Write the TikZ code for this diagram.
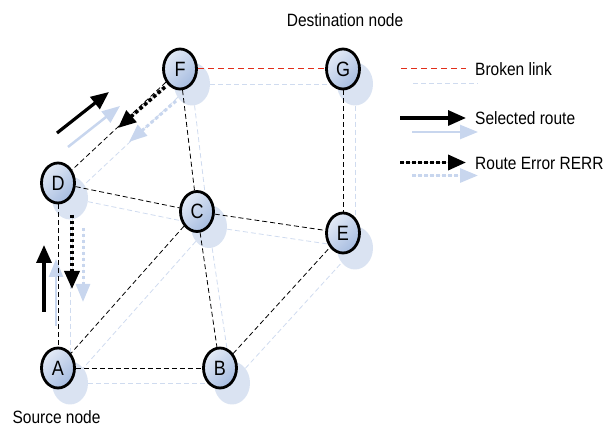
\documentclass[tikz,border=0pt]{standalone}
\usepackage{fontspec}
\setmainfont{Liberation Sans}
\usetikzlibrary{arrows.meta,shapes.geometric,calc}

\definecolor{nodelight}{HTML}{E3EAF6}
\definecolor{nodedark}{HTML}{A6BCE0}
\definecolor{ghostfill}{HTML}{DAE3F2}
\definecolor{ghostline}{HTML}{CFDBEF}
\definecolor{ghostarrow}{HTML}{C8D6EE}
\definecolor{brokenred}{RGB}{225,45,25}

\newcommand\tallstr[1]{\scalebox{1}[1.15]{#1}}

\tikzset{
  station/.style={ellipse, draw=black, line width=2.8pt,
    minimum width=33pt, minimum height=40pt, inner sep=0pt,
    top color=nodelight, bottom color=nodedark, shading angle=45,
    font=\fontsize{18}{18}\selectfont},
  ghost/.style={ellipse, fill=ghostfill, draw=none,
    minimum width=36pt, minimum height=43pt, inner sep=0pt},
  link/.style={draw=black, dash pattern=on 5pt off 3pt, line width=0.8pt},
  ghostlink/.style={draw=ghostline, dash pattern=on 5pt off 3pt, line width=0.8pt},
  brokenlink/.style={draw=brokenred, dash pattern=on 6pt off 4pt, line width=1pt},
  route/.style={draw=black, fill=black, line width=3.2pt, -{Triangle[length=18pt,width=15pt]}},
  errroute/.style={draw=black, fill=black, line width=3.6pt, dash pattern=on 3.5pt off 2.5pt,
    -{Triangle[length=18pt,width=15pt]}},
  ghostroute/.style={draw=ghostarrow, fill=ghostarrow, line width=2.5pt, -{Triangle[length=18pt,width=14pt]}},
  ghosterr/.style={draw=ghostarrow, fill=ghostarrow, line width=3pt, dash pattern=on 3.5pt off 2.5pt,
    -{Triangle[length=18pt,width=14pt]}},
  label/.style={inner sep=0pt, font=\fontsize{15.5}{16}\selectfont},
}

\begin{document}
\begin{tikzpicture}[x=1pt, y=-1pt]
  \useasboundingbox (0,0) rectangle (611,427);

  % node centres
  \coordinate (pA) at (58,368);
  \coordinate (pB) at (220,368);
  \coordinate (pC) at (197,211.5);
  \coordinate (pD) at (58,183);
  \coordinate (pE) at (343,233);
  \coordinate (pF) at (180,69);
  \coordinate (pG) at (343,69);

  % drop shadows of the stations
  \foreach \n in {A,B,C,D,E,F,G}
    \node[ghost] (s\n) at ($(p\n)+(12,15)$) {};

  % shadows of the links
  \draw[ghostlink] (sF) -- (sG);
  \draw[ghostlink] (sF) -- (sD);
  \draw[ghostlink] (sF) -- (sC);
  \draw[ghostlink] (sD) -- (sC);
  \draw[ghostlink] (sD) -- (sA);
  \draw[ghostlink] (sC) -- (sE);
  \draw[ghostlink] (sC) -- (sA);
  \draw[ghostlink] (sC) -- (sB);
  \draw[ghostlink] (sA) -- (sB);
  \draw[ghostlink] (sB) -- (sE);
  \draw[ghostlink] (sG) -- (sE);

  % stations
  \foreach \n in {A,B,C,D,E,F,G}
    \node[station] (\n) at (p\n) {\tallstr{\n}};

  % route arrows along the network
  \coordinate (upTail) at (44,312);
  \coordinate (upTip) at (44,245);
  \coordinate (dgTail) at (57,133);
  \coordinate (dgTip) at (109,92);
  \coordinate (erStart) at (165,87);
  \coordinate (erTip) at (118,128);
  \coordinate (dnStart) at (72,215);
  \coordinate (dnTip) at (72,289);

  % shadows of the route arrows
  \draw[ghostroute] ($(upTail)+(12,14)$) coordinate (upTailS) -- ($(upTip)+(12,14)$) coordinate (upTipS);
  \draw[ghostroute] ($(dgTail)+(11,14)$) coordinate (dgTailS) -- ($(dgTip)+(11,14)$) coordinate (dgTipS);
  \draw[ghosterr] ($(erStart)+(11,14)$) coordinate (erStartS) -- ($(erTip)+(11,14)$) coordinate (erTipS);
  \draw[ghosterr] ($(dnStart)+(11,13)$) coordinate (dnStartS) -- ($(dnTip)+(11,13)$) coordinate (dnTipS);

  % links
  \draw[brokenlink] (F) -- (G);
  \draw[link] (F) -- (D);
  \draw[link] (F) -- (C);
  \draw[link] (D) -- (C);
  \draw[link] (D) -- (A);
  \draw[link] (C) -- (E);
  \draw[link] (C) -- (A);
  \draw[link] (C) -- (B);
  \draw[link] (A) -- (B);
  \draw[link] (B) -- (E);
  \draw[link] (G) -- (E);

  % route arrows
  \draw[route] (upTail) -- (upTip);
  \draw[route] (dgTail) -- (dgTip);
  \draw[errroute] (erStart) -- (erTip);
  \draw[errroute] (dnStart) -- (dnTip);

  % captions
  \node[label] (dest) at (345,20) {\tallstr{Destination node}};
  \node[label] (src) at (56.5,417) {\tallstr{Source node}};

  % legend
  \coordinate (lgA1) at (401,69);
  \coordinate (lgA2) at (466,69);
  \coordinate (lgB1) at (400,118);
  \coordinate (lgB2) at (466,118);
  \coordinate (lgC1) at (400,162.5);
  \coordinate (lgC2) at (466,162.5);

  \draw[ghostlink] ($(lgA1)+(12,14)$) coordinate (lgA1s) -- ($(lgA2)+(12,14)$) coordinate (lgA2s);
  \draw[ghostroute] ($(lgB1)+(12,14)$) coordinate (lgB1s) -- ($(lgB2)+(12,14)$) coordinate (lgB2s);
  \draw[ghosterr] ($(lgC1)+(12,13)$) coordinate (lgC1s) -- ($(lgC2)+(12,13)$) coordinate (lgC2s);

  \draw[brokenlink] (lgA1) -- (lgA2);
  \draw[route] (lgB1) -- (lgB2);
  \draw[errroute] (lgC1) -- (lgC2);

  \node[label, anchor=west] (lgAt) at (475,69) {\tallstr{Broken link}};
  \node[label, anchor=west] (lgBt) at (475,118.5) {\tallstr{Selected route}};
  \node[label, anchor=west] (lgCt) at (475,163) {\tallstr{Route Error RERR}};
\end{tikzpicture}
\end{document}
